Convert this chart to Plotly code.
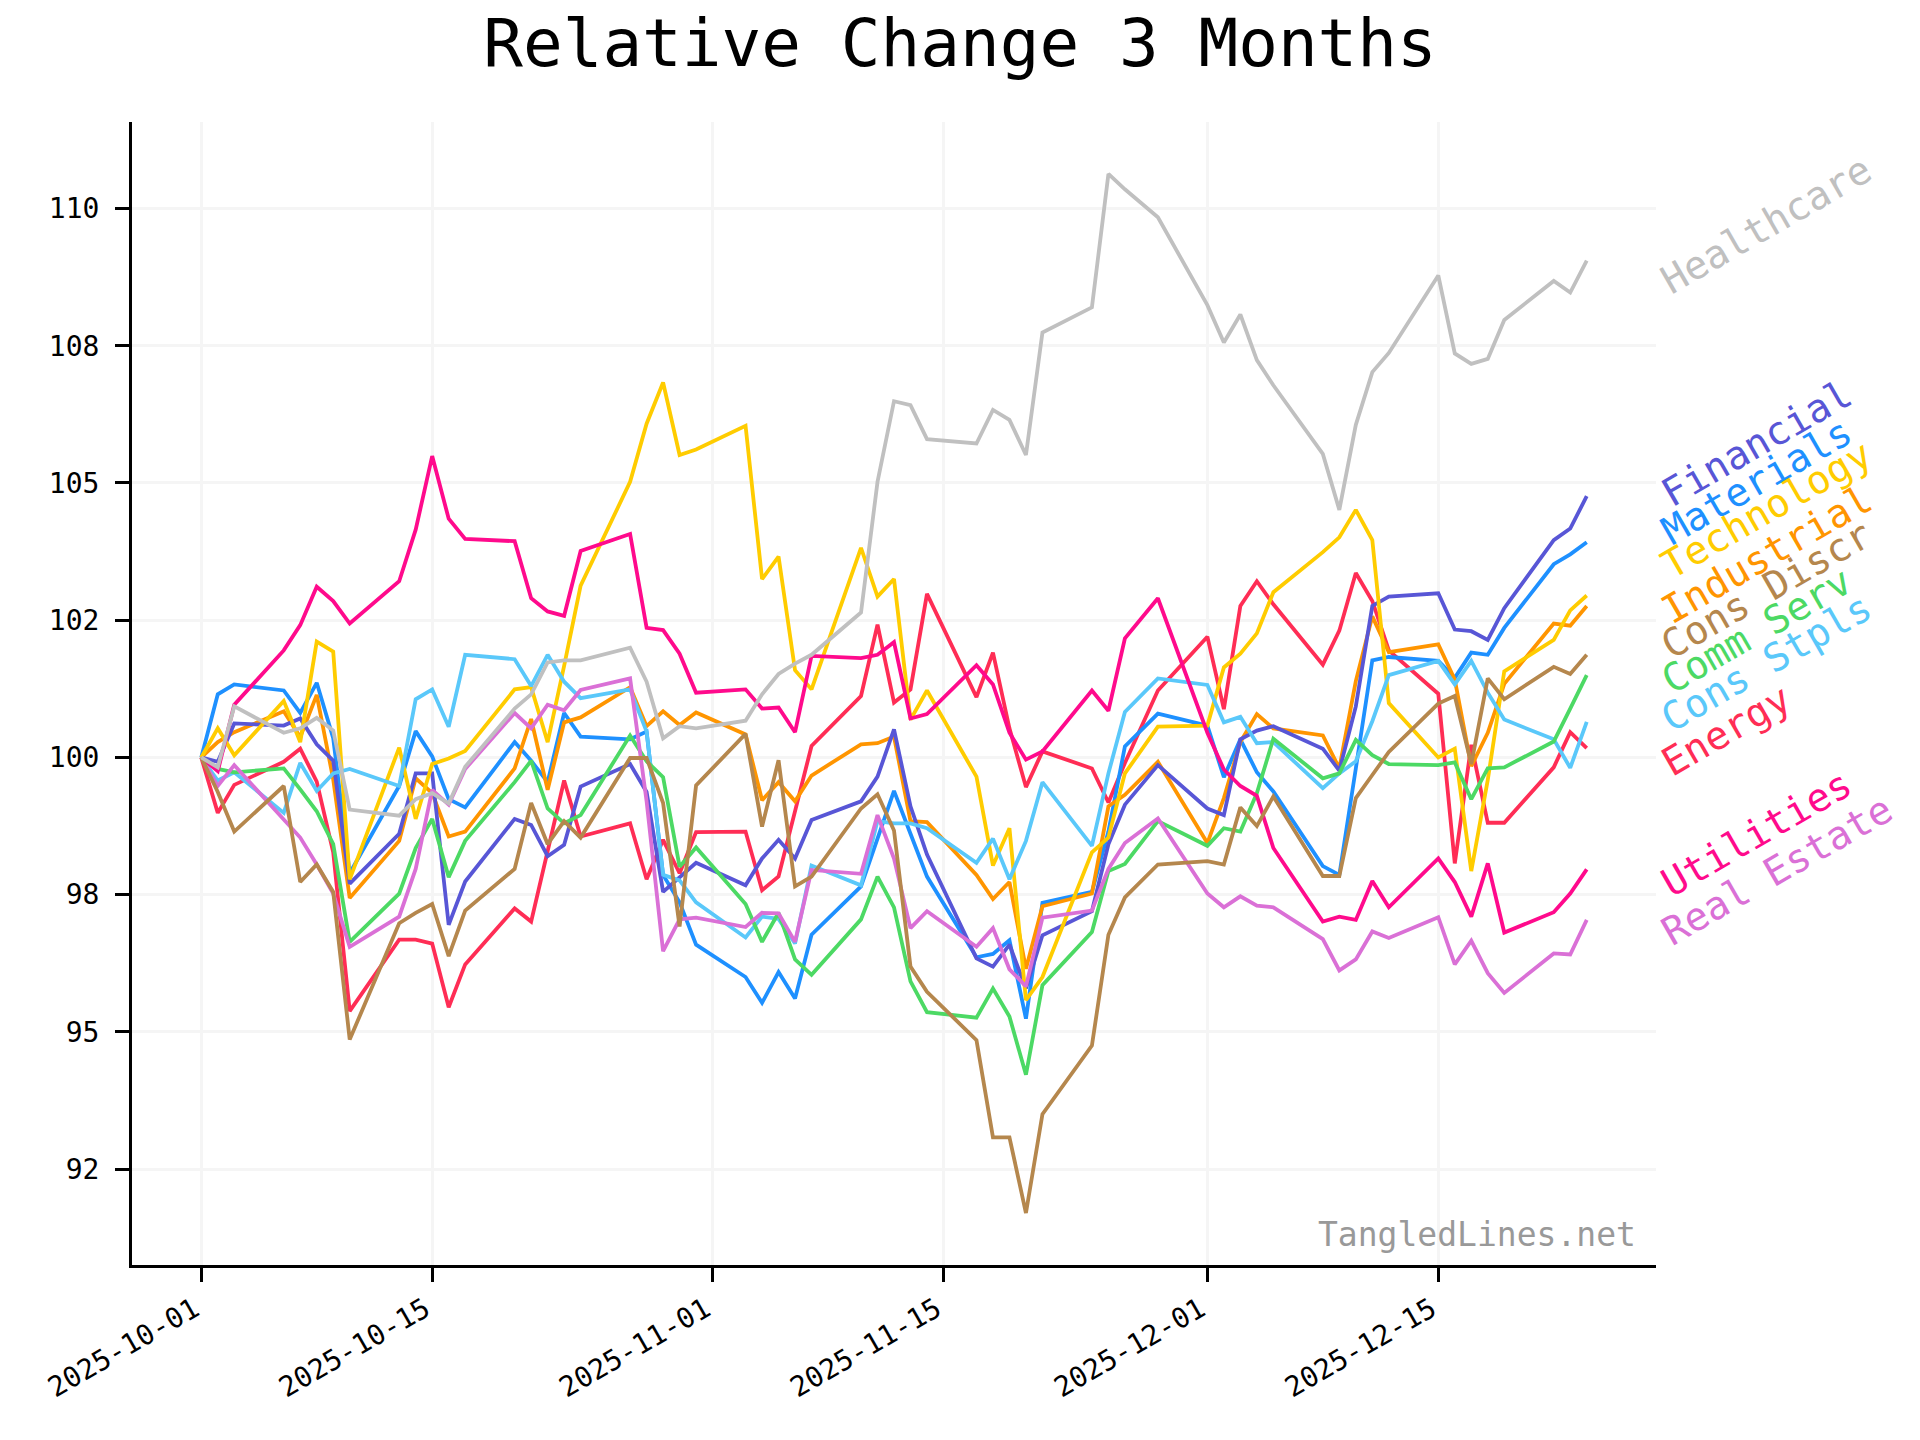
import plotly.graph_objects as go
from datetime import datetime, timedelta

# ---------------- data ----------------
dates = [
    "2025-10-01", "2025-10-02", "2025-10-03", "2025-10-06", "2025-10-07", "2025-10-08", "2025-10-09",
    "2025-10-10", "2025-10-13", "2025-10-14", "2025-10-15", "2025-10-16", "2025-10-17", "2025-10-20",
    "2025-10-21", "2025-10-22", "2025-10-23", "2025-10-24", "2025-10-27", "2025-10-28", "2025-10-29",
    "2025-10-30", "2025-10-31",
    "2025-11-03", "2025-11-04", "2025-11-05", "2025-11-06", "2025-11-07", "2025-11-10", "2025-11-11",
    "2025-11-12", "2025-11-13", "2025-11-14", "2025-11-17", "2025-11-18", "2025-11-19", "2025-11-20",
    "2025-11-21", "2025-11-24", "2025-11-25", "2025-11-26", "2025-11-28",
    "2025-12-01", "2025-12-02", "2025-12-03", "2025-12-04", "2025-12-05", "2025-12-08", "2025-12-09",
    "2025-12-10", "2025-12-11", "2025-12-12", "2025-12-15", "2025-12-16", "2025-12-17", "2025-12-18",
    "2025-12-19", "2025-12-22", "2025-12-23", "2025-12-24",
]

healthcare = [
    100, 99.82, 100.93, 100.45, 100.53, 100.72, 100.49, 99.05, 98.94, 99.24, 99.35, 99.16, 99.83, 100.89,
    101.15, 101.73, 101.77, 101.77, 102.0, 101.38, 100.35, 100.57, 100.53,
    100.67, 101.15, 101.52, 101.71, 101.87, 102.64, 105.02, 106.49, 106.42, 105.8, 105.72, 106.33, 106.15,
    105.51, 107.74, 108.2, 110.63, 110.35, 109.84,
    108.24, 107.56, 108.07, 107.24, 106.78, 105.53, 104.51, 106.06, 107.02, 107.37, 108.78, 107.36, 107.17,
    107.26, 107.97, 108.68, 108.47, 109.05,
]
utilities = [
    100, 99.75, 100.96, 101.95, 102.41, 103.11, 102.85, 102.44, 103.21, 104.15, 105.49, 104.35, 103.98, 103.94,
    102.9, 102.66, 102.58, 103.76, 104.07, 102.36, 102.32, 101.89, 101.18,
    101.24, 100.89, 100.91, 100.46, 101.85, 101.81, 101.87, 102.1, 100.71, 100.79, 101.68, 101.33, 100.45,
    99.96, 100.11, 101.22, 100.85, 102.17, 102.9,
    100.45, 99.78, 99.48, 99.3, 98.35, 97.01, 97.1, 97.04, 97.75, 97.27, 98.16, 97.73, 97.1, 98.07, 96.81,
    97.18, 97.52, 97.96,
]
real_estate = [
    100, 99.48, 99.86, 98.88, 98.54, 98.05, 97.52, 96.55, 97.1, 97.97, 99.41, 99.14, 99.79, 100.81, 100.53,
    100.96, 100.86, 101.23, 101.44, 99.2, 96.47, 97.05, 97.08,
    96.91, 97.17, 97.16, 96.64, 97.95, 97.88, 98.95, 98.16, 96.89, 97.2, 96.55, 96.89, 96.14, 95.83, 97.08,
    97.21, 97.97, 98.44, 98.89,
    97.52, 97.27, 97.47, 97.3, 97.27, 96.69, 96.12, 96.32, 96.83, 96.71, 97.09, 96.23, 96.66, 96.07, 95.71,
    96.43, 96.41, 97.04,
]
energy = [
    100, 98.99, 99.5, 99.92, 100.16, 99.56, 98.27, 95.38, 96.68, 96.68, 96.61, 95.45, 96.23, 97.25, 97.01,
    98.27, 99.58, 98.56, 98.8, 97.78, 98.5, 97.89, 98.64,
    98.65, 97.58, 97.83, 99.0, 100.21, 101.12, 102.42, 101.0, 101.24, 102.98, 101.1, 101.91, 100.53, 99.46,
    100.11, 99.8, 99.18, 99.9, 101.22,
    102.2, 100.88, 102.76, 103.21, 102.79, 101.69, 102.31, 103.36, 102.85, 101.95, 101.16, 98.07, 100.23,
    98.81, 98.81, 99.82, 100.46, 100.17,
]
financial = [
    100, 99.92, 100.62, 100.58, 100.71, 100.24, 99.94, 97.7, 98.61, 99.71, 99.71, 96.95, 97.74, 98.88, 98.77,
    98.2, 98.41, 99.47, 99.88, 99.37, 97.55, 97.82, 98.08,
    97.67, 98.16, 98.5, 98.16, 98.86, 99.2, 99.65, 100.51, 99.11, 98.23, 96.34, 96.19, 96.59, 95.79, 96.76,
    97.2, 98.42, 99.14, 99.86,
    99.07, 98.95, 100.33, 100.49, 100.57, 100.16, 99.76, 100.93, 102.76, 102.93, 102.99, 102.33, 102.3,
    102.14, 102.72, 103.96, 104.17, 104.76,
]
materials = [
    100, 101.15, 101.33, 101.22, 100.81, 101.36, 100.35, 97.89, 99.48, 100.48, 100.02, 99.24, 99.09, 100.28,
    99.94, 99.55, 100.81, 100.38, 100.33, 100.47, 97.86, 97.36, 96.59,
    96.0, 95.53, 96.09, 95.61, 96.77, 97.65, 98.5, 99.39, 98.61, 97.83, 96.36, 96.42, 96.67, 95.24, 97.35,
    97.55, 98.65, 100.2, 100.8,
    100.58, 99.64, 100.33, 99.73, 99.38, 98.02, 97.86, 99.8, 101.77, 101.83, 101.76, 101.45, 101.91, 101.87,
    102.36, 103.52, 103.7, 103.92,
]
technology = [
    100, 100.53, 100.04, 101.03, 100.28, 102.11, 101.93, 97.78, 100.18, 98.88, 99.88, 99.98, 100.12, 101.24,
    101.28, 100.28, 101.67, 103.13, 105.02, 106.08, 106.83, 105.51, 105.61,
    106.04, 103.25, 103.66, 101.59, 101.24, 103.82, 102.93, 103.25, 100.69, 101.22, 99.65, 98.03, 98.71,
    95.58, 96.0, 98.27, 98.54, 99.71, 100.56,
    100.58, 101.64, 101.89, 102.26, 103.01, 103.74, 104.01, 104.51, 103.96, 100.99, 100.0, 100.16, 97.93,
    99.59, 101.57, 102.14, 102.68, 102.95,
]
industrial = [
    100, 100.28, 100.46, 100.84, 100.37, 101.14, 99.6, 97.44, 98.48, 99.62, 99.35, 98.56, 98.65, 99.8, 100.7,
    99.41, 100.64, 100.73, 101.28, 100.57, 100.84, 100.59, 100.82,
    100.42, 99.22, 99.55, 99.2, 99.67, 100.24, 100.26, 100.38, 98.84, 98.82, 97.86, 97.42, 97.73, 96.15,
    97.29, 97.52, 99.11, 99.32, 99.92,
    98.44, 99.26, 100.28, 100.79, 100.53, 100.4, 99.8, 101.39, 102.57, 101.92, 102.06, 101.42, 99.84, 100.45,
    101.34, 102.44, 102.4, 102.76,
]
cons_discr = [
    100, 99.37, 98.65, 99.48, 97.73, 98.05, 97.55, 94.86, 96.98, 97.17, 97.33, 96.38, 97.21, 97.97, 99.17,
    98.42, 98.84, 98.54, 99.99, 99.99, 99.17, 96.92, 99.49,
    100.43, 98.74, 99.95, 97.65, 97.83, 99.07, 99.33, 98.67, 96.19, 95.73, 94.85, 93.08, 93.08, 91.7, 93.5,
    94.75, 96.77, 97.45, 98.05,
    98.11, 98.05, 99.09, 98.75, 99.29, 97.84, 97.84, 99.26, 99.68, 100.1, 100.98, 101.12, 99.88, 101.44,
    101.06, 101.65, 101.52, 101.87,
]
comm_serv = [
    100, 99.79, 99.73, 99.8, 99.42, 99.02, 98.42, 96.64, 97.52, 98.35, 98.88, 97.82, 98.48, 99.55, 99.94,
    99.07, 98.8, 98.95, 100.4, 99.93, 99.64, 98.01, 98.36,
    97.33, 96.64, 97.17, 96.32, 96.04, 97.05, 97.83, 97.27, 95.92, 95.36, 95.26, 95.79, 95.28, 94.22, 95.85,
    96.82, 97.93, 98.06, 98.84,
    98.39, 98.71, 98.65, 99.35, 100.34, 99.62, 99.71, 100.32, 100.04, 99.88, 99.86, 99.91, 99.24, 99.8,
    99.82, 100.29, 100.89, 101.5,
]
cons_stpls = [
    100, 99.58, 99.73, 98.99, 99.9, 99.39, 99.71, 99.79, 99.48, 101.06, 101.24, 100.56, 101.87, 101.79, 101.3,
    101.87, 101.38, 101.08, 101.24, 100.47, 97.86, 97.76, 97.36,
    96.72, 97.1, 97.06, 96.61, 98.03, 97.67, 98.84, 98.8, 98.8, 98.71, 98.08, 98.52, 97.78, 98.48, 99.55,
    98.39, 99.71, 100.83, 101.44,
    101.32, 100.64, 100.74, 100.26, 100.28, 99.44, 99.71, 99.93, 100.66, 101.5, 101.76, 101.33, 101.76,
    101.18, 100.69, 100.33, 99.81, 100.65,
]

y_tick_values = [92.5, 95.0, 97.5, 100.0, 102.5, 105.0, 107.5, 110.0]
x_tick_values = ["2025-10-01", "2025-10-15", "2025-11-01", "2025-11-15", "2025-12-01", "2025-12-15"]

# ---------------- style / layout constants ----------------
MONO = "DejaVu Sans Mono"
series = [
    ("Energy", energy, "#FF2D55"),
    ("Materials", materials, "#1E90FF"),
    ("Industrial", industrial, "#FF9500"),
    ("Financial", financial, "#5856D6"),
    ("Technology", technology, "#FFCC00"),
    ("Cons Stpls", cons_stpls, "#5AC8FA"),
    ("Comm Serv", comm_serv, "#4CD964"),
    ("Real Estate", real_estate, "#DA70D6"),
    ("Utilities", utilities, "#FF0A8C"),
    ("Cons Discr", cons_discr, "#B5874D"),
    ("Healthcare", healthcare, "#C0C0C0"),
]
# label anchor heights (data units) for the rotated end labels
label_y = {
    "Healthcare": 108.41, "Financial": 104.53, "Materials": 103.85, "Technology": 103.23,
    "Industrial": 102.41, "Cons Discr": 101.77, "Comm Serv": 101.13, "Cons Stpls": 100.44,
    "Energy": 99.62, "Utilities": 97.43, "Real Estate": 96.54,
}

fig = go.Figure()
for name, vals, color in series:
    fig.add_trace(go.Scatter(x=dates, y=vals, mode="lines", name=name,
                             line=dict(color=color, width=3.8), hoverinfo="skip"))

# matplotlib-like 5% autoscale margins
all_vals = [v for _, s, _ in series for v in s]
ymin, ymax = min(all_vals), max(all_vals)
ypad = 0.05 * (ymax - ymin)
d0 = datetime.strptime(dates[0], "%Y-%m-%d")
d1 = datetime.strptime(dates[-1], "%Y-%m-%d")
xpad = (d1 - d0) * 0.05
xr = [(d0 - xpad).strftime("%Y-%m-%d %H:%M:%S"), (d1 + xpad).strftime("%Y-%m-%d %H:%M:%S")]

annotations = []
for name, vals, color in series:
    annotations.append(dict(
        x=1, xref="paper", y=label_y[name], yref="y", xanchor="left", yanchor="bottom",
        xshift=-5, yshift=-10, text=name, textangle=-30, showarrow=False,
        font=dict(family=MONO, size=39, color=color),
    ))
annotations.append(dict(
    x=1, xref="paper", y=0.027, yref="paper", xanchor="right", yanchor="middle", xshift=-18,
    text="TangledLines.net", showarrow=False, font=dict(family=MONO, size=33, color="#999999"),
))

axis_common = dict(
    showline=True, linewidth=3, linecolor="black", ticks="outside", ticklen=14, tickwidth=3,
    tickcolor="black", showgrid=True, gridcolor="#f5f5f5", gridwidth=3, zeroline=False,
    tickfont=dict(family=MONO, size=28, color="black"),
)

fig.update_layout(
    width=1920, height=1440,
    margin=dict(l=132, r=264, t=122, b=175),
    paper_bgcolor="white", plot_bgcolor="white", showlegend=False,
    title=dict(text="Relative Change 3 Months", x=0.5, xref="container", y=0.970,
               yref="container", xanchor="center", yanchor="middle",
               font=dict(family=MONO, size=66, color="black")),
    xaxis=dict(type="date", range=xr, tickvals=x_tick_values, ticktext=x_tick_values,
               tickangle=-30, ticklabelstandoff=0, ticklabelshift=-7, **axis_common),
    yaxis=dict(range=[ymin - ypad, ymax + ypad], tickvals=y_tick_values,
               ticktext=["{:.0f}".format(v) for v in y_tick_values],
               ticklabelstandoff=10, **axis_common),
    annotations=annotations,
)

fig.write_html("out.html", config={"displayModeBar": False},
               post_script="document.body.style.margin='0px';")
